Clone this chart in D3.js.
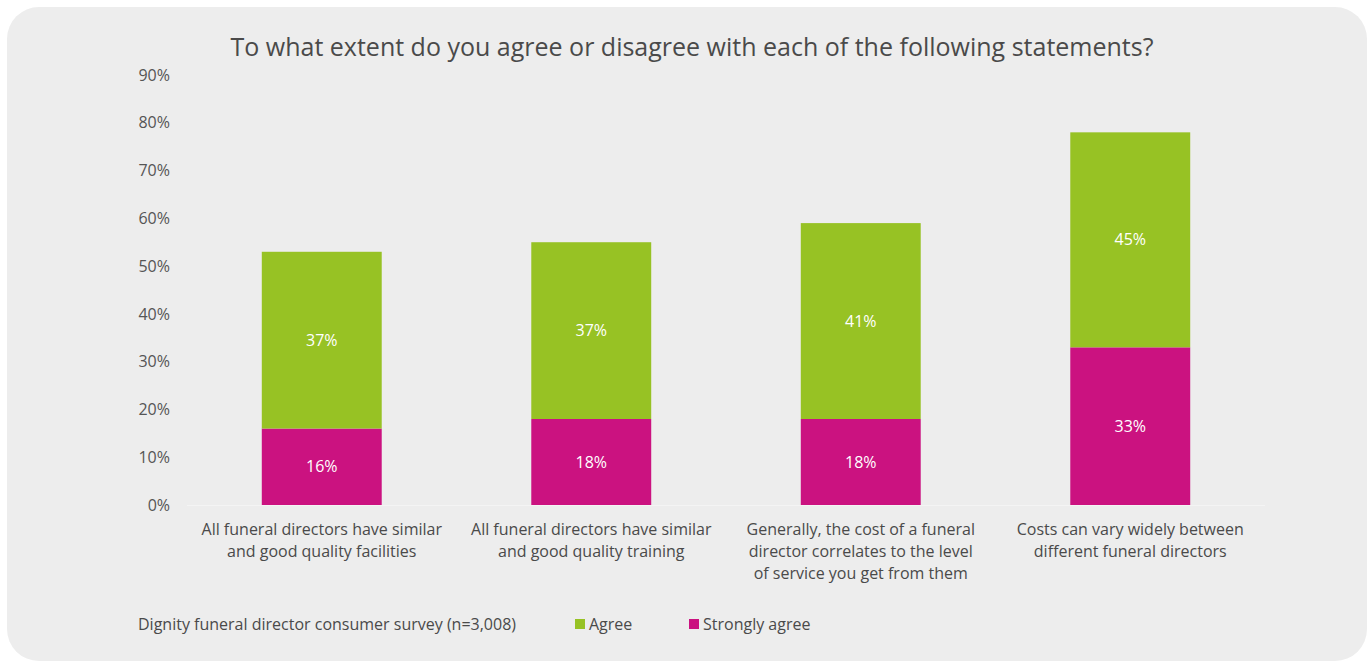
<!DOCTYPE html>
<html>
<head>
<meta charset="utf-8">
<script src="https://cdn.jsdelivr.net/npm/d3@7"></script>
<style>
  html, body { margin: 0; padding: 0; background: #ffffff; }
  svg { display: block; font-family: "Open Sans", "Noto Sans", sans-serif; }
</style>
</head>
<body>
<svg id="chart" width="1367" height="662"></svg>
<script>
// Survey statements (each label split into display lines)
const categories = [
  ["All funeral directors have similar", "and good quality facilities"],
  ["All funeral directors have similar", "and good quality training"],
  ["Generally, the cost of a funeral", "director correlates to the level", "of service you get from them"],
  ["Costs can vary widely between", "different funeral directors"]
];
const strongly = [16, 18, 18, 33];
const agree = [37, 37, 41, 45];
const seriesNames = ["Agree", "Strongly agree"];
const yTicks = [0, 10, 20, 30, 40, 50, 60, 70, 80, 90];
const titleText = "To what extent do you agree or disagree with each of the following statements?";
const sourceText = "Dignity funeral director consumer survey (n=3,008)";

const colors = { "Agree": "#97c224", "Strongly agree": "#cb1280" };

const svg = d3.select("#chart");
const W = 1367, H = 662;

// Rounded panel background
svg.append("rect")
  .attr("x", 7).attr("y", 7)
  .attr("width", W - 7).attr("height", H - 7 - 1)
  .attr("rx", 32).attr("ry", 32)
  .attr("fill", "#ededed");

const plot = { left: 187, right: 1265, top: 75, bottom: 505 };

const x = d3.scaleBand()
  .domain(d3.range(categories.length))
  .range([plot.left, plot.right])
  .paddingInner(0.555)
  .paddingOuter(0.2775);

const y = d3.scaleLinear().domain([0, 90]).range([plot.bottom, plot.top]);

// Title
svg.append("text")
  .attr("x", 692).attr("y", 56)
  .attr("text-anchor", "middle")
  .attr("font-size", 25)
  .attr("fill", "#4a4a4a")
  .text(titleText);

// Y axis (labels only)
const yAxis = d3.axisLeft(y).tickValues(yTicks).tickFormat(d => d + "%").tickSize(0).tickPadding(0);
const gy = svg.append("g").attr("transform", `translate(170,0)`).call(yAxis);
gy.select(".domain").remove();
gy.selectAll("text").attr("font-size", 16).attr("fill", "#555").attr("font-family", "Open Sans, Noto Sans, sans-serif");

// Baseline
svg.append("line")
  .attr("x1", plot.left).attr("x2", plot.right)
  .attr("y1", y(0) + 0.5).attr("y2", y(0) + 0.5)
  .attr("stroke", "#f4f4f4").attr("stroke-width", 1);

// Stacked data
const rows = categories.map((c, i) => ({ i, "Strongly agree": strongly[i], "Agree": agree[i] }));
const stack = d3.stack().keys(["Strongly agree", "Agree"]);
const layers = stack(rows);

const gBars = svg.append("g");
layers.forEach(layer => {
  const key = layer.key;
  gBars.selectAll(null)
    .data(layer)
    .enter().append("rect")
    .attr("x", d => x(d.data.i))
    .attr("width", x.bandwidth())
    .attr("y", d => y(d[1]))
    .attr("height", d => y(d[0]) - y(d[1]))
    .attr("fill", colors[key]);
  gBars.selectAll(null)
    .data(layer)
    .enter().append("text")
    .attr("x", d => x(d.data.i) + x.bandwidth() / 2)
    .attr("y", d => (y(d[0]) + y(d[1])) / 2)
    .attr("dy", "0.35em")
    .attr("text-anchor", "middle")
    .attr("font-size", 16)
    .attr("fill", "#ffffff")
    .text(d => d.data[key] + "%");
});

// Category labels
const gx = svg.append("g");
categories.forEach((lines, i) => {
  const t = gx.append("text")
    .attr("text-anchor", "middle")
    .attr("font-size", 16)
    .attr("fill", "#4a4a4a");
  lines.forEach((ln, k) => {
    t.append("tspan")
      .attr("x", x(i) + x.bandwidth() / 2)
      .attr("y", 535 + k * 22)
      .text(ln);
  });
});

// Source and legend
svg.append("text")
  .attr("x", 138).attr("y", 630)
  .attr("font-size", 16)
  .attr("fill", "#4a4a4a")
  .text(sourceText);

const legendX = [575, 689];
seriesNames.forEach((name, k) => {
  svg.append("rect")
    .attr("x", legendX[k]).attr("y", 619)
    .attr("width", 10).attr("height", 10)
    .attr("fill", colors[name]);
  svg.append("text")
    .attr("x", legendX[k] + 14).attr("y", 630)
    .attr("font-size", 16)
    .attr("fill", "#4a4a4a")
    .text(name);
});
</script>
</body>
</html>
